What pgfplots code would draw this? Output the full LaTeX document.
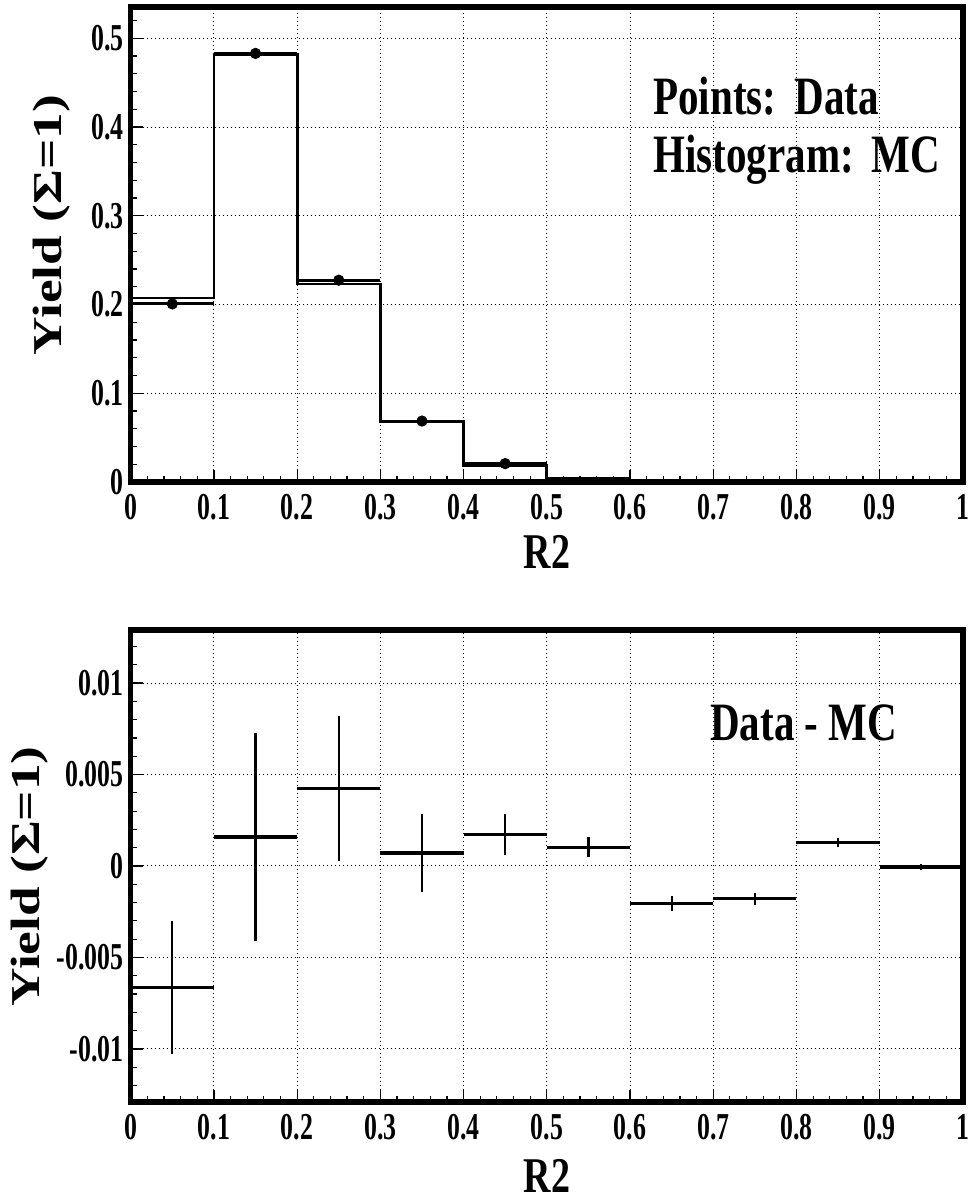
\documentclass[border=0pt]{standalone}
\usepackage{pgfplots}
\pgfplotsset{compat=1.18}
\usepackage{fontspec}
\setmainfont{Liberation Serif}
\newfontfamily\condfont{Liberation Serif}[FakeStretch=0.76]
\newfontfamily\tickfont{Liberation Serif}[FakeStretch=0.68]
\newfontfamily\ylabfont{Liberation Serif}[FakeStretch=1.3]

\pgfplotsset{rootaxis/.style={
  scale only axis, width=416.1pt, xmin=0, xmax=1,
  axis line style={line width=2.8pt},
  tick pos=left,
  tick style={black, line width=0.6pt},
  major tick length=6pt, minor tick length=3.2pt,
  grid=major,
  major grid style={black, line width=0.5pt, dash pattern=on 0.5pt off 1.5pt},
  scaled ticks=false,
  xtick={0,0.1,0.2,0.3,0.4,0.5,0.6,0.7,0.8,0.9,1},
  xticklabels={0,0.1,0.2,0.3,0.4,0.5,0.6,0.7,0.8,0.9,1},
  minor xtick={0,0.02,...,1},
  xticklabel style={font=\tickfont\bfseries\fontsize{19}{19}\selectfont, anchor=north, inner sep=0pt, yshift=-6pt},
  yticklabel style={font=\tickfont\bfseries\fontsize{19}{19}\selectfont, anchor=east, inner sep=0pt, xshift=-3.4pt},
  xlabel={R2},
  xlabel style={font=\condfont\bfseries\fontsize{25}{25}\selectfont, anchor=center, inner sep=0pt},
  ylabel={Yield (Σ=1)},
  ylabel style={font=\ylabfont\bfseries\fontsize{20.5}{20.5}\selectfont, anchor=center, inner sep=0pt},
}}

\begin{document}
\begin{tikzpicture}
\useasboundingbox (0,0) rectangle (485.5pt,600.5pt);

% ---------- top panel ----------
\begin{axis}[rootaxis,
  at={(65.35pt,359.5pt)}, anchor=south west, height=237.5pt,
  ymin=0, ymax=0.5353,
  ytick={0,0.1,0.2,0.3,0.4,0.5},
  yticklabels={0,0.1,0.2,0.3,0.4,0.5},
  minor ytick={0,0.02,...,0.52},
  xlabel style={at={(axis description cs:0.5,-0.148)}},
  ylabel style={at={(axis description cs:-0.0946,0.541)}},
]
% MC histogram (bin low edges)
\addplot[const plot, black, line width=1.4pt] table {
x y
0.0 0.2074
0.1 0.4814
0.2 0.2232
0.3 0.0680
0.4 0.0190
0.5 0.0030
0.6 0.0022
0.7 0.0019
0.8 0.0001
0.9 0.0001
1.0 0.0001
};
% Data points (bin centres)
\addplot[only marks, black, mark=*, mark size=2.6pt,
  error bars/.cd, x dir=both, x fixed=0.05, error mark=none,
  error bar style={black, line width=1.4pt}] table {
x y
0.05 0.2007
0.15 0.4830
0.25 0.2274
0.35 0.0687
0.45 0.0207
};
\addplot[draw=none, no markers,
  error bars/.cd, x dir=both, x fixed=0.05, error mark=none,
  error bar style={draw=black, line width=1.4pt}] table {
x y
0.55 0.0040
};
\node[anchor=base west, inner sep=0pt, font=\condfont\bfseries\fontsize{27}{27}\selectfont]
  at (axis cs:0.6276,0.4138) {Points:\hspace{9pt}Data};
\node[anchor=base west, inner sep=0pt, font=\condfont\bfseries\fontsize{27}{27}\selectfont]
  at (axis cs:0.6276,0.3484) {Histogram:\hspace{9pt}MC};
\end{axis}

% ---------- bottom panel ----------
\begin{axis}[rootaxis,
  at={(65.35pt,49.5pt)}, anchor=south west, height=236pt,
  ymin=-0.0129, ymax=0.0129,
  ytick={-0.01,-0.005,0,0.005,0.01},
  yticklabels={-0.01,-0.005,0,0.005,0.01},
  minor ytick={-0.012,-0.011,-0.010,-0.009,-0.008,-0.007,-0.006,-0.005,-0.004,-0.003,-0.002,-0.001,0,0.001,0.002,0.003,0.004,0.005,0.006,0.007,0.008,0.009,0.010,0.011,0.012},
  xlabel style={at={(axis description cs:0.5,-0.157)}},
  ylabel style={at={(axis description cs:-0.121,0.478)}},
]
% Data - MC : horizontal bars (bin width)
\addplot[draw=none, no markers,
  error bars/.cd, x dir=both, x fixed=0.05, error mark=none,
  error bar style={draw=black, line width=1.6pt}] table {
x y
0.05 -0.00663
0.15 0.00159
0.25 0.00422
0.35 0.00071
0.45 0.00170
0.55 0.00102
0.65 -0.00203
0.75 -0.00179
0.85 0.00128
0.95 -0.00005
};
% Data - MC : vertical error bars
\addplot[draw=none, no markers,
  error bars/.cd, y dir=both, y explicit, error mark=none,
  error bar style={draw=black, line width=1.1pt}] table[y error=e] {
x y e
0.05 -0.00663 0.00363
0.15 0.00159 0.00567
0.25 0.00422 0.00397
0.35 0.00071 0.00213
0.45 0.00170 0.00112
0.55 0.00102 0.00055
0.65 -0.00203 0.00041
0.75 -0.00179 0.00033
0.85 0.00128 0.00025
0.95 -0.00005 0.00015
};
\node[anchor=base west, inner sep=0pt, font=\condfont\bfseries\fontsize{27}{27}\selectfont]
  at (axis cs:0.696,0.006855) {Data - MC};
\end{axis}
\end{tikzpicture}
\end{document}
